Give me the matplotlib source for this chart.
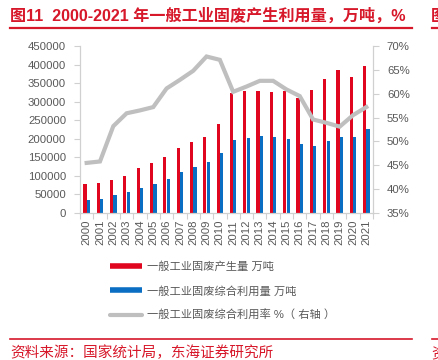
import numpy as np
import matplotlib
matplotlib.use("Agg")
import matplotlib.pyplot as plt
from matplotlib.lines import Line2D

plt.rcParams['font.family'] = ['Liberation Sans', 'Noto Sans CJK SC', 'DejaVu Sans']

# data
years = [str(y) for y in range(2000, 2022)]
produced = [78000, 81000, 89000, 100000, 120500, 134500, 151500, 176000, 190000, 204500,
            240800, 322800, 330000, 328300, 326400, 327400, 309300, 331900, 359800, 386500,
            365700, 396100]
utilized = [35200, 37900, 47800, 55900, 67600, 77600, 92900, 110900, 124400, 138000,
            162300, 195700, 202900, 206500, 204700, 199300, 184900, 181300, 194800, 205600,
            204000, 226300]
rate = [45.5, 45.8, 53.2, 55.9, 56.5, 57.2, 61.1, 62.9, 64.8, 67.8, 67.1, 60.4, 61.5,
        62.7, 62.7, 60.9, 59.5, 54.6, 53.9, 53.1, 55.5, 57.2]

RED = '#e0061f'
BLUE = '#0a6fc2'
GRAY = '#bfbfbf'
TXT = '#595959'
TITLE_RED = '#d7182a'

fig = plt.figure(figsize=(4.38, 3.6), dpi=100)
ax = fig.add_axes([80 / 438, 1 - 213 / 360, 293 / 438, 167 / 360])
ax2 = ax.twinx()

x = np.arange(len(years))
w = 0.24
ax.bar(x - 0.13, produced, width=w, color=RED, zorder=2)
ax.bar(x + 0.13, utilized, width=w, color=BLUE, zorder=2)
ax2.plot(x, rate, color=GRAY, lw=3, solid_joinstyle='miter', zorder=3)

ax.set_xlim(-0.5, len(years) - 0.5)
ax.set_ylim(0, 450000)
ax.set_yticks(np.arange(0, 450001, 50000))
ax2.set_ylim(35, 70)
ax2.set_yticks(np.arange(35, 71, 5))
ax2.set_yticklabels([f'{v}%' for v in range(35, 71, 5)])

ax.set_xticks(x)
ax.set_xticklabels(years, rotation=90)
ax.set_xticks(np.arange(-0.5, len(years), 1), minor=True)
ax.tick_params(axis='x', which='major', length=0, pad=5, labelsize=8.2, colors=TXT)
ax.tick_params(axis='x', which='minor', length=4, color='#d0d0d0', width=0.8)
ax.tick_params(axis='y', length=4, color='#d0d0d0', width=0.8, labelsize=8.2,
               labelcolor=TXT, pad=6)
ax2.tick_params(axis='y', length=4, color='#d0d0d0', width=0.8, labelsize=8.2,
                labelcolor=TXT, pad=6)

for a in (ax, ax2):
    a.spines['top'].set_visible(False)
    for s in ('left', 'right', 'bottom'):
        a.spines[s].set_color('#d0d0d0')
        a.spines[s].set_linewidth(0.8)
ax.set_zorder(ax2.get_zorder() - 1)
ax.patch.set_visible(False)

handles = [Line2D([], [], color=RED, lw=4, solid_capstyle='butt'),
           Line2D([], [], color=BLUE, lw=4, solid_capstyle='butt'),
           Line2D([], [], color=GRAY, lw=3, solid_capstyle='round')]
labels = ['一般工业固废产生量 万吨', '一般工业固废综合利用量 万吨', '一般工业固废综合利用率 %（ 右轴 ）']
leg = fig.legend(handles, labels, loc='upper left', bbox_to_anchor=(105 / 438, 1 - 257 / 360),
                 frameon=False, fontsize=8.1, handlelength=2.85, handletextpad=0.45,
                 labelspacing=1.2, borderaxespad=0)
for t in leg.get_texts():
    t.set_color(TXT)

# title, rules and source
fig.text(10 / 438, 1 - 21 / 360, '图11  2000-2021 年一般工业固废产生利用量，万吨，%',
         color=TITLE_RED, fontsize=11.6, fontweight='bold', va='baseline', ha='left')
fig.text(431 / 438, 1 - 21 / 360, '图', color=TITLE_RED, fontsize=11.6,
         fontweight='bold', va='baseline', ha='left')
fig.add_artist(Line2D([10 / 438, 412 / 438], [1 - 28 / 360] * 2, color=TITLE_RED, lw=1.6))
fig.add_artist(Line2D([432 / 438, 1], [1 - 28 / 360] * 2, color=TITLE_RED, lw=1.6))
fig.add_artist(Line2D([10 / 438, 412 / 438], [1 - 339 / 360] * 2, color=TITLE_RED, lw=1.2))
fig.add_artist(Line2D([432 / 438, 1], [1 - 339 / 360] * 2, color=TITLE_RED, lw=1.2))
fig.text(10 / 438, 1 - 357 / 360, '资料来源：国家统计局，东海证券研究所', color=TITLE_RED,
         fontsize=10.5, va='baseline', ha='left')
fig.text(431 / 438, 1 - 357 / 360, '资', color=TITLE_RED, fontsize=10.5,
         va='baseline', ha='left')

fig.savefig('out.png', dpi=100)
